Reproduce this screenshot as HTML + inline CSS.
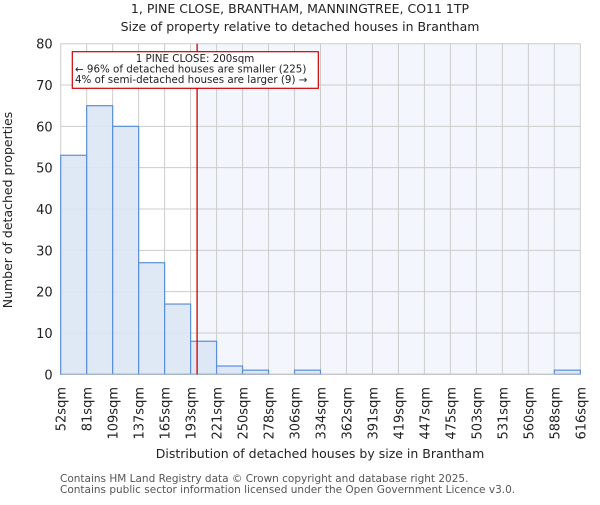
<!DOCTYPE html>
<html><head><meta charset="utf-8"><style>
body{margin:0;background:#fff}
svg{font-family:"DejaVu Sans","Liberation Sans",sans-serif}
</style></head><body>
<svg id="chart" width="600" height="500" viewBox="0 0 600 500">
<text x="300" y="13" text-anchor="middle" font-size="12.5" fill="#222">1, PINE CLOSE, BRANTHAM, MANNINGTREE, CO11 1TP</text>
<text x="300" y="31" text-anchor="middle" font-size="12.5" fill="#222">Size of property relative to detached houses in Brantham</text>
<g id="plot"></g>
<text x="320" y="458" text-anchor="middle" font-size="12.5" fill="#222">Distribution of detached houses by size in Brantham</text>
<text transform="translate(12,210) rotate(-90)" text-anchor="middle" font-size="12.5" fill="#222">Number of detached properties</text>
<text x="60" y="482" font-size="10.5" fill="#555">Contains HM Land Registry data © Crown copyright and database right 2025.</text>
<text x="60" y="493" font-size="10.5" fill="#555">Contains public sector information licensed under the Open Government Licence v3.0.</text>
</svg>
<script>
const edges = [52,81,109,137,165,193,221,250,278,306,334,362,391,419,447,475,503,531,560,588,616];
const counts = [53,65,60,27,17,8,2,1,0,1,0,0,0,0,0,0,0,0,0,1];
const yTicks = [0,10,20,30,40,50,60,70,80];
const propertySize = 200;
const NS="http://www.w3.org/2000/svg";
const L=60.7,R=580.3,T=43.7,B=374.3;
function xs(v){return L+(v-edges[0])/(edges[edges.length-1]-edges[0])*(R-L);}
function xi(i){return L+i*(R-L)/(edges.length-1);}
function xv(v){for(let i=0;i<edges.length-1;i++){if(v>=edges[i]&&v<=edges[i+1])return xi(i)+(v-edges[i])/(edges[i+1]-edges[i])*(xi(i+1)-xi(i));}return xs(v);}
function ys(v){return B-v/80*(B-T);}
const g=document.getElementById('plot');
function mk(t,a){const e=document.createElementNS(NS,t);for(const k in a)e.setAttribute(k,a[k]);g.appendChild(e);return e;}
const px=xv(propertySize);
let e=mk('rect',{x:px,y:T,width:R-px,height:B-T,fill:'#f3f6fd'});


yTicks.forEach(t=>{
 let l=mk('line',{x1:L,x2:R,y1:ys(t),y2:ys(t),stroke:'#cccccc','stroke-width':1});
 
 
 let tx=mk('text',{x:L-8,y:ys(t)+5,'text-anchor':'end','font-size':13,fill:'#222'});
 tx.textContent=t;
 
 
});
edges.forEach((v,i)=>{
 let l=mk('line',{x1:xi(i),x2:xi(i),y1:T,y2:B,stroke:'#cccccc','stroke-width':1});
 
 
 let tx=mk('text',{transform:`translate(${xi(i)+5},387) rotate(-90)`,'text-anchor':'end','font-size':13,fill:'#222'});
 tx.textContent=v+'sqm';
 
 
});
counts.forEach((c,i)=>{
 if(c<=0)return;
 let r=mk('rect',{x:xi(i),y:ys(c),width:xi(i+1)-xi(i),height:B-ys(c),fill:'#dce6f4',stroke:'#5b8fd6','stroke-width':1.2,'fill-opacity':0.9});
 
 
});
let ax=mk('line',{x1:L,x2:R,y1:B,y2:B,stroke:'#bbbbbb','stroke-width':1});


let rl=mk('line',{x1:px,x2:px,y1:T,y2:B,stroke:'#cc0000','stroke-width':1.3});


let box=mk('rect',{x:72.3,y:51.7,width:246,height:36.6,fill:'#fff',stroke:'#cc0000','stroke-width':1.2});


const lines=['1 PINE CLOSE: 200sqm','← 96% of detached houses are smaller (225)','4% of semi-detached houses are larger (9) →'];
lines.forEach((s,i)=>{
 let t=mk('text',{x:i==0?195:75,y:62+i*10.5,'text-anchor':i==0?'middle':'start','font-size':10.3,fill:'#222'});
 t.textContent=s;
 
 
});
</script>
</body></html>
